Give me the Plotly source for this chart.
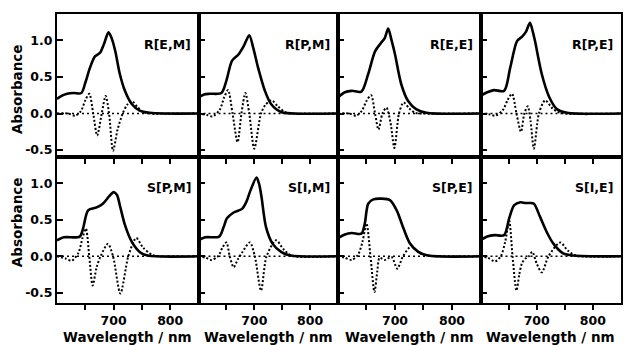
import plotly.graph_objects as go

# ---------------- data ----------------
panel_labels = ["R[E,M]", "R[P,M]", "R[E,E]", "R[P,E]",
                "S[P,M]", "S[I,M]", "S[P,E]", "S[I,E]"]

x_tick_vals = [650, 700, 750, 800]
x_tick_text = ["", "700", "", "800"]
y_tick_vals = [-0.5, 0.0, 0.5, 1.0]
y_tick_text = ["-0.5", "0.0", "0.5", "1.0"]

# R[E,M]
abs_wl_1 = [600, 608, 618, 630, 643, 650, 658, 667, 676, 683, 691, 697, 703, 711, 720, 732, 746, 764, 790, 850]
abs_1 = [0.20, 0.24, 0.27, 0.28, 0.28, 0.42, 0.62, 0.78, 0.83, 0.95, 1.11, 1.02, 0.85, 0.54, 0.31, 0.13, 0.04, 0.01, 0.0, 0.0]
cd_wl_1 = [600, 620, 632, 642, 650, 657, 664, 671, 679, 686, 692, 699, 707, 716, 724, 732, 742, 752, 765, 850]
cd_1 = [0.0, 0.0, -0.03, 0.03, 0.18, 0.27, 0.0, -0.30, 0.0, 0.24, 0.0, -0.51, -0.22, 0.0, 0.12, 0.17, 0.09, 0.02, 0.0, 0.0]

# R[P,M]
abs_wl_2 = [600, 610, 620, 641, 650, 660, 672, 681, 691, 698, 707, 719, 730, 748, 770, 850]
abs_2 = [0.22, 0.26, 0.27, 0.28, 0.45, 0.72, 0.81, 0.92, 1.07, 0.90, 0.62, 0.31, 0.13, 0.02, 0.0, 0.0]
cd_wl_2 = [600, 615, 625, 638, 646, 653, 661, 670, 677, 684, 691, 700, 712, 720, 731, 742, 755, 770, 850]
cd_2 = [0.0, -0.02, -0.04, 0.05, 0.22, 0.32, 0.0, -0.39, 0.0, 0.28, 0.0, -0.48, 0.0, 0.12, 0.18, 0.10, 0.02, 0.0, 0.0]

# R[E,E]
abs_wl_3 = [600, 612, 624, 641, 653, 665, 675, 682, 688, 694, 700, 711, 723, 737, 755, 850]
abs_3 = [0.22, 0.29, 0.31, 0.30, 0.54, 0.85, 0.96, 1.03, 1.16, 1.00, 0.81, 0.40, 0.17, 0.06, 0.01, 0.0]
cd_wl_3 = [600, 620, 632, 642, 650, 658, 665, 671, 678, 685, 692, 699, 707, 715, 725, 735, 750, 850]
cd_3 = [0.0, 0.0, -0.03, 0.04, 0.17, 0.25, 0.0, -0.22, 0.0, 0.08, -0.12, -0.47, 0.0, 0.15, 0.07, 0.01, 0.0, 0.0]

# R[P,E]
abs_wl_4 = [600, 612, 624, 642, 653, 665, 674, 681, 688, 693, 697, 709, 722, 736, 754, 850]
abs_4 = [0.24, 0.29, 0.32, 0.31, 0.63, 0.99, 1.05, 1.12, 1.24, 1.12, 0.99, 0.54, 0.23, 0.06, 0.01, 0.0]
cd_wl_4 = [600, 615, 626, 640, 648, 656, 664, 672, 678, 684, 689, 695, 704, 715, 728, 742, 850]
cd_4 = [0.0, -0.01, -0.03, 0.05, 0.18, 0.27, 0.0, -0.25, 0.0, 0.10, -0.10, -0.48, 0.0, 0.18, 0.07, 0.01, 0.0]

# S[P,M]
abs_wl_5 = [600, 612, 640, 646, 655, 670, 681, 692, 700, 706, 711, 720, 732, 746, 760, 850]
abs_5 = [0.22, 0.26, 0.27, 0.38, 0.63, 0.67, 0.72, 0.82, 0.88, 0.84, 0.70, 0.43, 0.20, 0.06, 0.01, 0.0]
cd_wl_5 = [600, 615, 626, 638, 645, 651, 657, 663, 670, 677, 690, 699, 712, 726, 740, 752, 768, 780, 850]
cd_5 = [0.0, -0.03, -0.06, 0.05, 0.25, 0.38, 0.0, -0.40, -0.15, 0.0, 0.17, 0.0, -0.51, 0.0, 0.25, 0.12, 0.02, 0.0, 0.0]

# S[I,M]
abs_wl_6 = [600, 612, 637, 645, 651, 663, 678, 686, 693, 704, 709, 713, 721, 733, 748, 765, 850]
abs_6 = [0.22, 0.26, 0.27, 0.40, 0.52, 0.60, 0.65, 0.75, 0.90, 1.08, 0.98, 0.81, 0.40, 0.17, 0.06, 0.01, 0.0]
cd_wl_6 = [600, 613, 623, 635, 643, 650, 656, 663, 670, 678, 692, 701, 712, 722, 739, 752, 767, 850]
cd_6 = [0.0, -0.02, -0.05, 0.0, 0.12, 0.19, 0.0, -0.15, -0.05, 0.05, 0.19, 0.0, -0.47, 0.0, 0.22, 0.10, 0.01, 0.0]

# S[P,E]
abs_wl_7 = [600, 612, 624, 641, 647, 653, 662, 676, 691, 703, 715, 726, 741, 758, 850]
abs_7 = [0.25, 0.30, 0.32, 0.31, 0.45, 0.72, 0.78, 0.79, 0.77, 0.63, 0.38, 0.18, 0.06, 0.01, 0.0]
cd_wl_7 = [600, 612, 624, 635, 643, 650, 657, 664, 669, 673, 682, 694, 704, 714, 729, 742, 758, 850]
cd_7 = [0.0, -0.02, -0.05, 0.02, 0.20, 0.45, 0.0, -0.49, -0.20, -0.02, -0.05, -0.01, -0.17, 0.0, 0.14, 0.05, 0.01, 0.0]

# S[I,E]
abs_wl_8 = [600, 612, 625, 642, 651, 660, 671, 680, 688, 695, 706, 718, 730, 747, 765, 850]
abs_8 = [0.22, 0.27, 0.29, 0.29, 0.52, 0.70, 0.74, 0.73, 0.73, 0.72, 0.54, 0.33, 0.17, 0.04, 0.01, 0.0]
cd_wl_8 = [600, 613, 626, 636, 644, 651, 657, 664, 669, 674, 680, 686, 692, 700, 709, 721, 742, 755, 770, 850]
cd_8 = [0.0, -0.02, -0.07, 0.0, 0.20, 0.49, 0.0, -0.47, -0.25, -0.09, -0.03, 0.0, 0.06, -0.10, -0.22, 0.0, 0.19, 0.08, 0.01, 0.0]

abs_wls = [abs_wl_1, abs_wl_2, abs_wl_3, abs_wl_4, abs_wl_5, abs_wl_6, abs_wl_7, abs_wl_8]
abs_vals = [abs_1, abs_2, abs_3, abs_4, abs_5, abs_6, abs_7, abs_8]
cd_wls = [cd_wl_1, cd_wl_2, cd_wl_3, cd_wl_4, cd_wl_5, cd_wl_6, cd_wl_7, cd_wl_8]
cd_vals = [cd_1, cd_2, cd_3, cd_4, cd_5, cd_6, cd_7, cd_8]

# ---------------- layout ----------------
FONT = "DejaVu Sans"
x_edges = [0.0, 0.2509, 0.4982, 0.7509, 1.0]
row_domains = [[0.505, 1.0], [0.0, 0.505]]
row_ranges = [[-0.595, 1.36], [-0.64, 1.36]]

fig = go.Figure()
layout = dict(
    width=624, height=345,
    margin=dict(l=57, r=1, t=14, b=42),
    paper_bgcolor="white", plot_bgcolor="white",
    showlegend=False,
    font=dict(family=FONT, color="black", size=12, weight="bold"),
)
annotations = []
shapes = []

for k in range(8):
    row, col = divmod(k, 4)
    n = "" if k == 0 else str(k + 1)
    xa, ya = "x" + n, "y" + n

    fig.add_trace(go.Scatter(x=abs_wls[k], y=abs_vals[k], xaxis=xa, yaxis=ya,
                             mode="lines", line=dict(color="black", width=2.6, shape="spline", smoothing=0.8),
                             hoverinfo="skip"))
    fig.add_trace(go.Scatter(x=cd_wls[k], y=cd_vals[k], xaxis=xa, yaxis=ya,
                             mode="lines", line=dict(color="black", width=2, dash="2px,2px", shape="spline", smoothing=0.8),
                             hoverinfo="skip"))

    layout["xaxis" + n] = dict(
        domain=[x_edges[col], x_edges[col + 1]], anchor=ya, range=[600, 850],
        showline=True, mirror=True, linewidth=2, linecolor="black",
        ticks="outside", ticklen=5, tickwidth=2, tickcolor="black",
        tickvals=x_tick_vals, ticktext=x_tick_text,
        showticklabels=(row == 1), showgrid=False, zeroline=False,
        tickfont=dict(family=FONT, size=12.5, color="black", weight="bold"),
    )
    layout["yaxis" + n] = dict(
        domain=row_domains[row], anchor=xa, range=row_ranges[row],
        showline=True, mirror=True, linewidth=2, linecolor="black",
        ticks="inside", ticklen=6, tickwidth=2, tickcolor="black",
        tickvals=y_tick_vals, ticktext=y_tick_text,
        showticklabels=(col == 0), showgrid=False, zeroline=False,
        tickfont=dict(family=FONT, size=12.5, color="black", weight="bold"),
    )

    shapes.append(dict(type="line", xref=xa + " domain", yref=ya, x0=0, x1=1, y0=0, y1=0,
                       line=dict(color="black", width=1.5, dash="2px,3px"), layer="below"))

    annotations.append(dict(text="<b>" + panel_labels[k] + "</b>", xref=xa + " domain", yref=ya + " domain",
                            x=0.96, y=0.79, xanchor="right", yanchor="middle", showarrow=False,
                            font=dict(family=FONT, size=12.5, color="black")))
    if row == 1:
        annotations.append(dict(text="<b>Wavelength / nm</b>", xref=xa + " domain", yref="paper",
                                x=0.5, y=-0.118, xanchor="center", yanchor="middle", showarrow=False,
                                font=dict(family=FONT, size=13.5, color="black")))

for yc in [0.7405, 0.280]:
    annotations.append(dict(text="<b>Absorbance</b>", xref="paper", yref="paper",
                            x=-0.0707, y=yc, xanchor="center", yanchor="middle", textangle=-90,
                            showarrow=False, font=dict(family=FONT, size=13.5, color="black")))

layout["annotations"] = annotations
layout["shapes"] = shapes
fig.update_layout(**layout)
fig.write_html("out.html",
               config={"displayModeBar": False},
               post_script="document.body.style.margin='0';document.body.style.overflow='hidden';")
